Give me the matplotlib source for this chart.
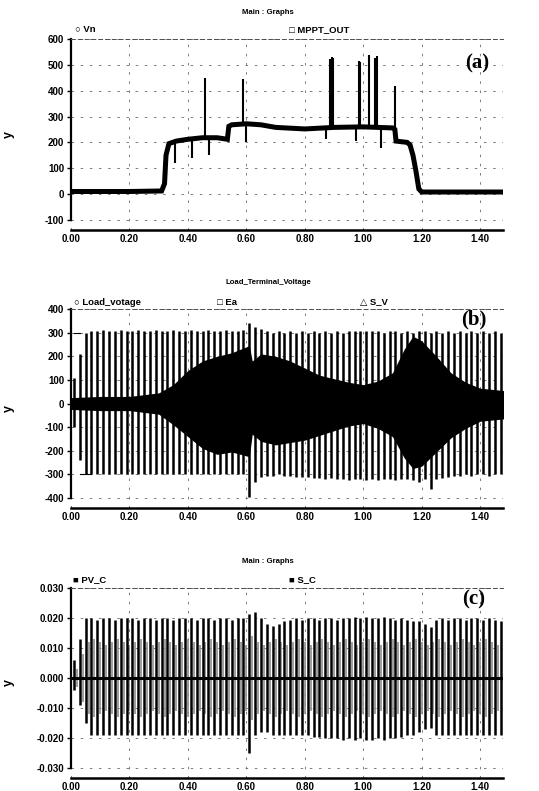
import numpy as np
import matplotlib
matplotlib.use("Agg")
import matplotlib.pyplot as plt

plt.rcParams['font.family'] = ['Liberation Sans', 'DejaVu Sans']
plt.rcParams['font.weight'] = 'bold'

# ---------------- data ----------------
x_ticks = [0.0, 0.2, 0.4, 0.6, 0.8, 1.0, 1.2, 1.4]
x_ticklabels = ["0.00", "0.20", "0.40", "0.60", "0.80", "1.00", "1.20", "1.40"]

# (a) Vn : DC level breakpoints
vn_t = [0.00, 0.20, 0.31, 0.32, 0.325, 0.335, 0.36, 0.40, 0.45, 0.50, 0.535, 0.54, 0.55,
        0.60, 0.65, 0.70, 0.80, 0.90, 1.00, 1.05, 1.10, 1.108, 1.112, 1.15, 1.16, 1.17,
        1.18, 1.19, 1.20, 1.30, 1.48]
vn_v = [10, 10, 12, 40, 150, 195, 205, 212, 218, 218, 212, 262, 268,
        272, 268, 258, 252, 258, 260, 258, 256, 250, 205, 200, 190, 150,
        90, 20, 8, 8, 8]
spike_t = [0.460, 0.590, 0.885, 0.893, 0.897, 0.985, 0.990, 1.020, 1.040, 1.046, 1.110]
spike_v = [450, 445, 522, 530, 526, 515, 510, 540, 528, 535, 420]
dip_t = [0.357, 0.415, 0.473, 0.600, 0.873, 0.976, 1.060]
dip_v = [120, 140, 150, 200, 215, 205, 180]

# (b) Load terminal voltage : per-cycle peaks (50 Hz cycles)
n_cyc = 74
cyc_t = 0.01 + 0.02 * np.arange(n_cyc)
b_hi = [110, 210, 300, 305, 305, 310, 305, 305, 310, 305,
        305, 310, 305, 305, 310, 305, 305, 310, 305, 305,
        310, 305, 305, 310, 305, 305, 310, 305, 305, 310,
        340, 325, 315, 305, 300, 305, 300, 305, 300, 305,
        300, 305, 300, 305, 300, 305, 300, 305, 305, 305,
        305, 305, 305, 300, 305, 305, 300, 305, 300, 305,
        305, 300, 305, 300, 305, 300, 305, 300, 305, 300,
        305, 300, 305, 300]
b_lo = [-100, -240, -300, -300, -300, -300, -300, -300, -300, -300,
        -300, -300, -300, -300, -300, -300, -300, -300, -300, -300,
        -300, -300, -300, -300, -300, -300, -300, -300, -300, -300,
        -395, -330, -310, -305, -305, -300, -305, -305, -310, -310,
        -310, -315, -315, -320, -315, -320, -320, -325, -320, -320,
        -325, -320, -325, -320, -320, -325, -320, -320, -325, -330,
        -320, -360, -320, -315, -310, -305, -305, -300, -305, -300,
        -300, -305, -300, -300]
# inner envelope (Ea / S_V)
b_env_t = [0.00, 0.10, 0.20, 0.30, 0.35, 0.40, 0.45, 0.50, 0.55, 0.58, 0.61, 0.62,
           0.65, 0.70, 0.75, 0.80, 0.85, 0.90, 0.95, 1.00, 1.05, 1.10, 1.14, 1.17,
           1.20, 1.25, 1.30, 1.35, 1.40, 1.48]
b_env_hi = [25, 30, 30, 45, 80, 140, 180, 200, 215, 230, 245, 180,
            210, 200, 180, 150, 120, 105, 90, 80, 95, 130, 230, 285,
            265, 200, 130, 90, 65, 55]
b_env_lo = [-25, -30, -30, -45, -90, -140, -190, -215, -205, -215, -225, -130,
            -160, -175, -165, -155, -135, -115, -95, -85, -105, -140, -230, -275,
            -265, -205, -145, -105, -75, -65]

# (c) currents : per-cycle peaks
c_hi = [0.006, 0.013, 0.020, 0.020, 0.0195, 0.020, 0.020, 0.0195, 0.020, 0.020,
        0.020, 0.0195, 0.020, 0.020, 0.0195, 0.020, 0.020, 0.0195, 0.020, 0.020,
        0.020, 0.0195, 0.020, 0.020, 0.0195, 0.020, 0.020, 0.0195, 0.020, 0.020,
        0.0215, 0.022, 0.020, 0.018, 0.0175, 0.018, 0.019, 0.0195, 0.020, 0.0195,
        0.020, 0.020, 0.0195, 0.020, 0.020, 0.0195, 0.020, 0.020, 0.0205, 0.020,
        0.0205, 0.020, 0.020, 0.0205, 0.020, 0.0195, 0.020, 0.0195, 0.019, 0.019,
        0.018, 0.017, 0.0195, 0.020, 0.0195, 0.020, 0.020, 0.0195, 0.020, 0.020,
        0.0195, 0.020, 0.0195, 0.019]
c_lo = [-0.004, -0.009, -0.015, -0.019, -0.019, -0.019, -0.019, -0.019, -0.019, -0.019,
        -0.019, -0.019, -0.019, -0.019, -0.019, -0.019, -0.019, -0.019, -0.019, -0.019,
        -0.019, -0.019, -0.019, -0.019, -0.019, -0.019, -0.019, -0.019, -0.019, -0.019,
        -0.025, -0.019, -0.018, -0.018, -0.019, -0.019, -0.019, -0.019, -0.019, -0.019,
        -0.019, -0.0195, -0.0195, -0.020, -0.020, -0.020, -0.0205, -0.020, -0.0205, -0.020,
        -0.0205, -0.0205, -0.020, -0.0205, -0.020, -0.020, -0.0195, -0.019, -0.019, -0.018,
        -0.017, -0.0165, -0.019, -0.019, -0.019, -0.019, -0.019, -0.019, -0.019, -0.019,
        -0.019, -0.019, -0.019, -0.019]
c_gray = [0.003, 0.008, 0.012, 0.013, 0.012, 0.011, 0.012, 0.013, 0.012, 0.011,
          0.012, 0.013, 0.012, 0.011, 0.012, 0.013, 0.012, 0.011, 0.012, 0.013,
          0.012, 0.011, 0.012, 0.013, 0.012, 0.011, 0.012, 0.013, 0.012, 0.011,
          0.014, 0.012, 0.011, 0.012, 0.013, 0.012, 0.011, 0.012, 0.013, 0.012,
          0.011, 0.012, 0.013, 0.012, 0.011, 0.012, 0.013, 0.012, 0.011, 0.012,
          0.013, 0.012, 0.011, 0.012, 0.013, 0.012, 0.011, 0.012, 0.013, 0.012,
          0.011, 0.012, 0.013, 0.012, 0.011, 0.012, 0.013, 0.012, 0.011, 0.012,
          0.013, 0.012, 0.011, 0.012]
pv_t = [0.0, 1.48]
pv_v = [0.0, 0.0]

# ---------------- figure ----------------
fig = plt.figure(figsize=(5.39, 7.91), dpi=100)
W, H = 539.0, 791.0
L, R = 71, 503


def make_ax(top, bottom):
    return fig.add_axes([L / W, 1 - bottom / H, (R - L) / W, (bottom - top) / H])


ax_a = make_ax(39, 230)
ax_b = make_ax(309, 508)
ax_c = make_ax(588, 778)

grid_kw = dict(color='0.4', lw=0.6, ls=(0, (3, 8)))


def style(ax, ylim, yticks, ylabels, ybounds):
    ax.set_xlim(0, 1.478)
    ax.set_ylim(*ylim)
    ax.set_xticks(x_ticks)
    ax.set_xticklabels(x_ticklabels)
    ax.set_yticks(yticks)
    ax.set_yticklabels(ylabels)
    ax.tick_params(axis='x', length=0, pad=3, labelsize=7)
    ax.tick_params(axis='y', length=3, width=1.0, pad=2, labelsize=7)
    for lab in ax.get_xticklabels() + ax.get_yticklabels():
        lab.set_fontweight('bold')
    ax.spines['right'].set_visible(False)
    ax.spines['top'].set_linestyle((0, (4, 3)))
    ax.spines['top'].set_linewidth(0.7)
    ax.spines['top'].set_color('0.3')
    ax.spines['left'].set_linewidth(1.6)
    ax.spines['left'].set_bounds(*ybounds)
    ax.spines['bottom'].set_linewidth(1.8)
    ax.grid(True, **grid_kw)
    ax.set_axisbelow(True)
    ax.set_ylabel('y', fontsize=9, fontweight='bold', rotation=90)
    ax.yaxis.set_label_coords(-0.13, 0.5)


def headline(ax, title, ty, items, ly):
    ax.text(0.456, ty, title, transform=ax.transAxes, ha='center', va='center',
            fontsize=5.6, fontweight='bold')
    for xpos, txt in items:
        ax.text(xpos, ly, txt, transform=ax.transAxes, ha='left', va='center',
                fontsize=6.8, fontweight='bold')


# (a)
style(ax_a, (-139, 600), [600, 500, 400, 300, 200, 100, 0, -100],
      ["600", "500", "400", "300", "200", "100", "0", "-100"], (-100, 600))
ax_a.plot(vn_t, vn_v, color='black', lw=3.6, solid_joinstyle='miter')
ax_a.vlines(spike_t, np.interp(spike_t, vn_t, vn_v), spike_v, color='black', lw=1.5)
ax_a.vlines(dip_t, dip_v, np.interp(dip_t, vn_t, vn_v), color='black', lw=1.5)
headline(ax_a, "Main : Graphs", 1.141,
         [(0.01, "\u25cb Vn"), (0.505, "\u25a1 MPPT_OUT")], 1.052)
ax_a.text(0.94, 0.874, "(a)", transform=ax_a.transAxes, ha='center', va='center',
          fontsize=15, fontweight='bold', family='Liberation Serif')

# (b)
style(ax_b, (-442, 400), [400, 300, 200, 100, 0, -100, -200, -300, -400],
      ["400", "300", "200", "100", "0", "-100", "-200", "-300", "-400"], (-400, 400))
ax_b.fill_between(b_env_t, b_env_lo, b_env_hi, color='black', lw=0)
ax_b.vlines(cyc_t, b_lo, b_hi, color='black', lw=1.8)
ax_b.plot(cyc_t[:2], [300, 300], color='black', lw=0.8)
ax_b.plot(cyc_t[1:4], [-300, -300, -300], color='black', lw=0.8)
headline(ax_b, "Load_Terminal_Voltage", 1.131,
         [(0.007, "\u25cb Load_votage"), (0.338, "\u25a1 Ea"), (0.67, "\u25b3 S_V")], 1.035)
ax_b.text(0.933, 0.945, "(b)", transform=ax_b.transAxes, ha='center', va='center',
          fontsize=15, fontweight='bold', family='Liberation Serif')

# (c)
style(ax_c, (-0.0333, 0.030), [0.03, 0.02, 0.01, 0.0, -0.01, -0.02, -0.03],
      ["0.030", "0.020", "0.010", "0.000", "-0.010", "-0.020", "-0.030"], (-0.03, 0.03))
ax_c.vlines(cyc_t + 0.01, np.negative(c_gray), c_gray, color='0.55', lw=1.2)
ax_c.vlines(cyc_t, c_lo, c_hi, color='black', lw=1.8)
ax_c.plot(pv_t, pv_v, color='black', lw=2.2)
headline(ax_c, "Main : Graphs", 1.137,
         [(0.005, "\u25a0 PV_C"), (0.505, "\u25a0 S_C")], 1.047)
ax_c.text(0.933, 0.937, "(c)", transform=ax_c.transAxes, ha='center', va='center',
          fontsize=15, fontweight='bold', family='Liberation Serif')

fig.savefig("out.png", dpi=100)
